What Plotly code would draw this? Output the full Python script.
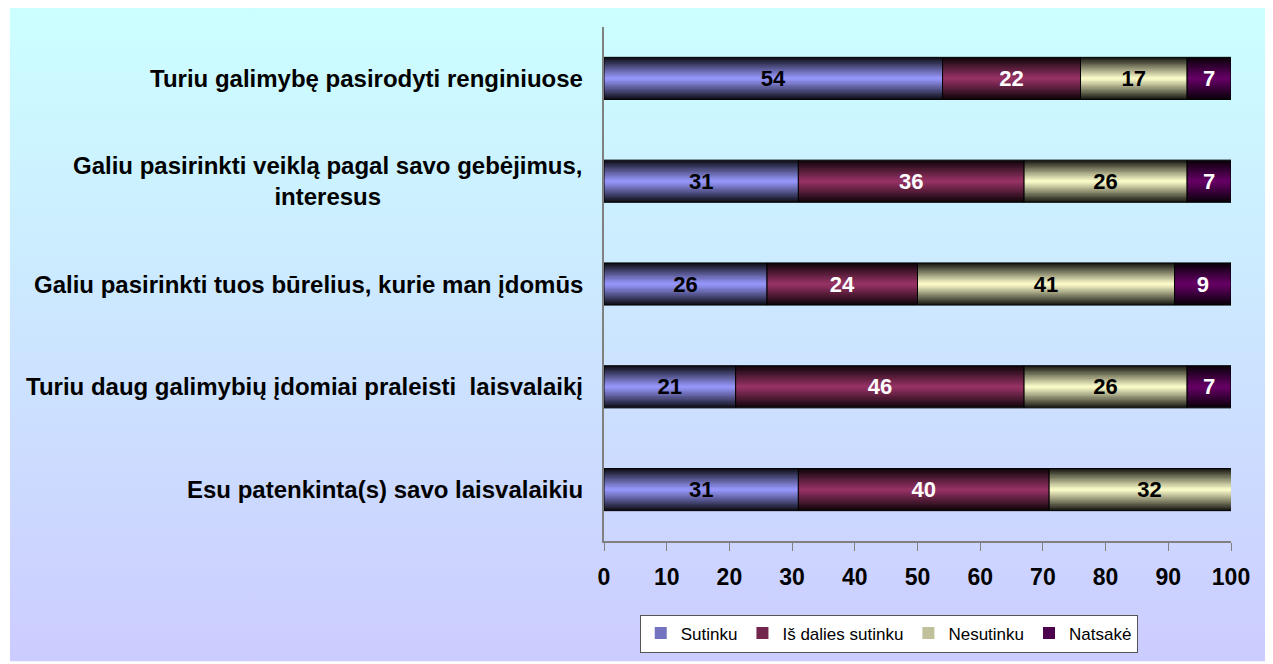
import base64
import plotly.graph_objects as go

# ---------------- data ----------------
categories = [
    "Turiu galimybę pasirodyti renginiuose",
    "Galiu pasirinkti veiklą pagal savo gebėjimus,<br>interesus",
    "Galiu pasirinkti tuos būrelius, kurie man įdomūs",
    "Turiu daug galimybių įdomiai praleisti  laisvalaikį",
    "Esu patenkinta(s) savo laisvalaikiu",
]
series_names = ["Sutinku", "Iš dalies sutinku", "Nesutinku", "Natsakė"]
sutinku = [54, 31, 26, 21, 31]
is_dalies = [22, 36, 24, 46, 40]
nesutinku = [17, 26, 41, 26, 32]
natsake = [7, 7, 9, 7, None]
x_ticks = [0, 10, 20, 30, 40, 50, 60, 70, 80, 90, 100]

series_values = [sutinku, is_dalies, nesutinku, natsake]
series_colors = ["#9999FF", "#993366", "#FFFFCC", "#660066"]
text_colors = ["black", "white", "black", "white"]

FONT = "Liberation Sans, Arial, sans-serif"
BAR_W = 0.41
N_LAYERS = 16


def mix(hex_col, f):
    h = hex_col.lstrip("#")
    r, g, b = (int(h[i:i + 2], 16) for i in (0, 2, 4))
    r, g, b = (int(round(c * (1 - f))) for c in (r, g, b))
    return f"rgb({r},{g},{b})"


fig = go.Figure()

cum = [0] * len(categories)
for name, vals, col, tcol in zip(series_names, series_values, series_colors, text_colors):
    bases = list(cum)
    # stepped vertical gradient: nested bars, darker toward the edges
    for k in range(N_LAYERS):
        frac = (N_LAYERS - k) / N_LAYERS
        d = (N_LAYERS - k - 0.5) / N_LAYERS
        f = 0.93 * d ** 1.05
        fig.add_trace(go.Bar(
            y=categories, x=vals, base=bases, orientation="h",
            width=BAR_W * frac,
            marker=dict(color=mix(col, f), line=dict(width=0)),
            name=name, legendgroup=name,
            showlegend=(k == N_LAYERS - 5),
            hoverinfo="skip",
        ))
    # outline + value labels
    fig.add_trace(go.Bar(
        y=categories, x=vals, base=bases, orientation="h",
        width=BAR_W,
        marker=dict(color="rgba(0,0,0,0)", line=dict(color="black", width=1)),
        text=[str(v) if v is not None else "" for v in vals],
        textposition="inside", insidetextanchor="middle",
        constraintext="none",
        insidetextfont=dict(family=FONT, size=22, color=tcol, weight="bold"),
        name=name, legendgroup=name, showlegend=False,
    ))
    cum = [c + (v or 0) for c, v in zip(cum, vals)]

# category labels (centered multi-line, right aligned next to the axis)
annotations = []
for cat in categories:
    annotations.append(dict(
        x=-0.03, xref="paper", y=cat, yref="y",
        text=cat, showarrow=False, xanchor="right", yanchor="middle",
        align="center",
        font=dict(family=FONT, size=24, color="black", weight="bold"),
    ))

# gradient background
svg = ('<svg xmlns="http://www.w3.org/2000/svg" width="100" height="100" '
       'viewBox="0 0 100 100" preserveAspectRatio="none"><defs>'
       '<linearGradient id="g" x1="0" y1="0" x2="0" y2="1">'
       '<stop offset="0" stop-color="#CCFFFF"/><stop offset="1" stop-color="#CCCCFF"/>'
       '</linearGradient></defs><rect width="100" height="100" fill="url(#g)"/></svg>')
svg_uri = "data:image/svg+xml;base64," + base64.b64encode(svg.encode()).decode()

fig.update_layout(
    width=1265, height=656,
    margin=dict(l=596, r=42, t=19, b=121, pad=0),
    paper_bgcolor="white", plot_bgcolor="rgba(0,0,0,0)",
    barmode="overlay",
    font=dict(family=FONT, color="black"),
    annotations=annotations,
    images=[dict(
        source=svg_uri, xref="paper", yref="paper",
        x=-0.9474, y=1.0407, sizex=2.10, sizey=1.2752,
        xanchor="left", yanchor="top", sizing="stretch", layer="below",
    )],
    legend=dict(
        orientation="h", x=0.057, xanchor="left", y=-0.143, yanchor="top",
        bgcolor="white", bordercolor="#555555", borderwidth=1,
        font=dict(family=FONT, size=17, color="black"),
        itemwidth=30, traceorder="normal",
    ),
    showlegend=True,
)
fig.update_xaxes(
    range=[0, 100], tickvals=x_ticks, ticktext=[str(t) for t in x_ticks],
    ticks="outside", ticklen=8, tickcolor="#808080", tickwidth=1,
    showline=True, linecolor="#808080", linewidth=2,
    showgrid=False, zeroline=False,
    tickfont=dict(family=FONT, size=23, color="black", weight="bold"),
    ticklabelstandoff=6, fixedrange=True,
)
fig.update_yaxes(
    type="category", categoryorder="array", categoryarray=categories,
    range=[len(categories) - 0.5, -0.5],
    showticklabels=False, ticks="",
    showline=True, linecolor="#808080", linewidth=2,
    showgrid=False, zeroline=False, fixedrange=True,
)

fig.write_html("out.html")
